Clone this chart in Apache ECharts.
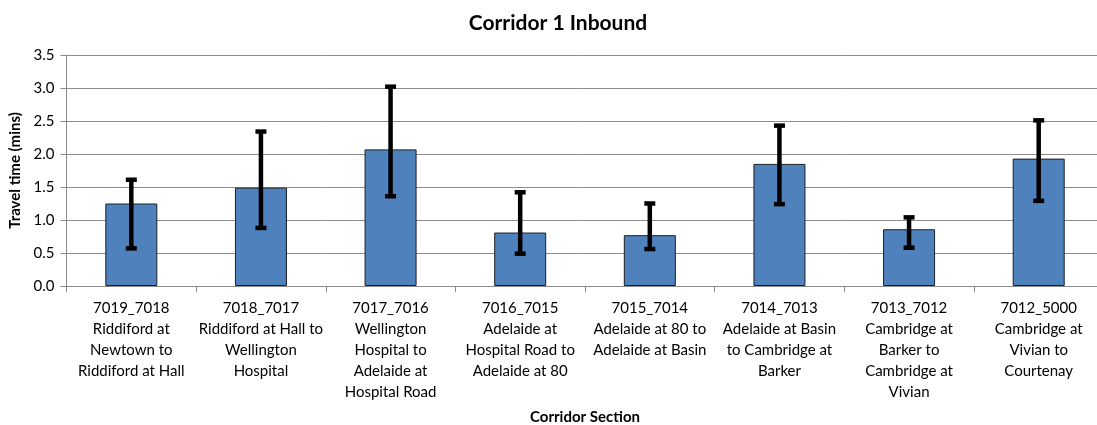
<!DOCTYPE html>
<html>
<head>
<meta charset="utf-8">
<script src="https://cdn.jsdelivr.net/npm/echarts@6/dist/echarts.min.js"></script>
<style>
  html, body { margin: 0; padding: 0; background: #fff; }
  #chart { width: 1097px; height: 425px; }
</style>
</head>
<body>
<div id="chart"></div>
<script>
// Corridor sections (code + description, wrapped like the original)
const sections = [
  "7019_7018\nRiddiford at\nNewtown to\nRiddiford at Hall",
  "7018_7017\nRiddiford at Hall to\nWellington\nHospital",
  "7017_7016\nWellington\nHospital to\nAdelaide at\nHospital Road",
  "7016_7015\nAdelaide at\nHospital Road to\nAdelaide at 80",
  "7015_7014\nAdelaide at 80 to\nAdelaide at Basin",
  "7014_7013\nAdelaide at Basin\nto Cambridge at\nBarker",
  "7013_7012\nCambridge at\nBarker to\nCambridge at\nVivian",
  "7012_5000\nCambridge at\nVivian to\nCourtenay"
];

// Mean travel time (mins)
const travelTime = [1.25, 1.49, 2.07, 0.81, 0.77, 1.85, 0.86, 1.93];

// Error bar ends (mins)
const errLow = [0.57, 0.88, 1.36, 0.49, 0.56, 1.24, 0.58, 1.29];
const errHigh = [1.61, 2.34, 3.02, 1.42, 1.25, 2.43, 1.04, 2.51];

const fontFamily = "Lato, 'Noto Sans', sans-serif";
const gridGray = "#8c8c8c";

// Error bars as a custom series: stem plus two caps
function renderErrorBar(params, api) {
  const x = api.value(0);
  const low = api.coord([x, api.value(1)]);
  const high = api.coord([x, api.value(2)]);
  const capHalf = 5.5;
  const style = { stroke: "#000", lineWidth: 4.5, fill: null };
  return {
    type: "group",
    children: [
      { type: "line", shape: { x1: low[0], y1: low[1], x2: high[0], y2: high[1] }, style: style },
      { type: "line", shape: { x1: high[0] - capHalf, y1: high[1], x2: high[0] + capHalf, y2: high[1] }, style: style },
      { type: "line", shape: { x1: low[0] - capHalf, y1: low[1], x2: low[0] + capHalf, y2: low[1] }, style: style }
    ]
  };
}

const errData = sections.map((s, i) => [i, errLow[i], errHigh[i]]);

const chart = echarts.init(document.getElementById("chart"));
chart.setOption({
  animation: false,
  textStyle: { fontFamily: fontFamily },
  title: {
    text: "Corridor 1 Inbound",
    left: 553,
    top: 8,
    textAlign: "center",
    textStyle: { fontFamily: fontFamily, fontWeight: "bold", fontSize: 21, color: "#000" }
  },
  grid: { left: 66.5, top: 55, width: 1037, height: 231, containLabel: false, outerBoundsMode: "none" },
  xAxis: {
    type: "category",
    data: sections,
    name: "Corridor Section",
    nameLocation: "middle",
    nameGap: 124,
    nameTextStyle: { fontFamily: fontFamily, fontWeight: "bold", fontSize: 15, color: "#000" },
    axisLine: { lineStyle: { color: gridGray, width: 1 } },
    axisTick: { show: true, length: 6, lineStyle: { color: gridGray } },
    axisLabel: {
      interval: 0,
      margin: 12,
      fontSize: 15,
      lineHeight: 21,
      color: "#000",
      fontFamily: fontFamily,
      align: "center"
    },
    splitLine: { show: false }
  },
  yAxis: {
    type: "value",
    min: 0,
    max: 3.5,
    interval: 0.5,
    name: "Travel time (mins)",
    nameLocation: "middle",
    nameGap: 41,
    nameTextStyle: { fontFamily: fontFamily, fontWeight: "bold", fontSize: 15, color: "#000" },
    axisLine: { show: true, lineStyle: { color: gridGray, width: 1 } },
    axisTick: { show: true, length: 6, lineStyle: { color: gridGray } },
    axisLabel: {
      margin: 12,
      fontSize: 15,
      color: "#000",
      fontFamily: fontFamily,
      formatter: v => v.toFixed(1)
    },
    splitLine: { show: true, lineStyle: { color: gridGray, width: 1 } }
  },
  series: [
    {
      type: "bar",
      data: travelTime,
      barWidth: 52,
      itemStyle: { color: "#4F81BD", borderColor: "#1a1f26", borderWidth: 1 }
    },
    {
      type: "custom",
      renderItem: renderErrorBar,
      data: errData,
      encode: { x: 0, y: [1, 2] },
      z: 10
    }
  ]
});
</script>
</body>
</html>
